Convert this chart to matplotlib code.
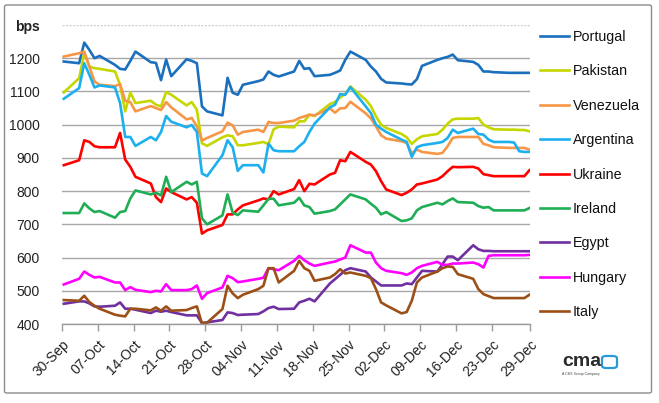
import matplotlib
matplotlib.use("Agg")
import matplotlib.pyplot as plt
from matplotlib.patches import FancyBboxPatch
import pandas as pd
import numpy as np

plt.rcParams['font.family'] = ['Liberation Sans', 'DejaVu Sans']

dates = pd.bdate_range('2011-09-30', '2011-12-30')

portugal = [1190,
            1185, 1247, 1225, 1200, 1207,
            1180, 1168, 1166, 1192, 1220,
            1188, 1186, 1134, 1196, 1146,
            1197, 1192, 1185, 1055, 1040,
            1028, 1141, 1096, 1090, 1120,
            1131, 1136, 1160, 1150, 1145,
            1160, 1192, 1168, 1170, 1146,
            1150, 1156, 1163, 1195, 1220,
            1195, 1175, 1160, 1138, 1127,
            1124, 1122, 1121, 1137, 1177,
            1195, 1200, 1204, 1211, 1194,
            1189, 1180, 1160, 1160, 1158,
            1156, 1156, 1156, 1156, 1156]
pakistan = [1097,
            1140, 1215, 1175, 1170, 1168,
            1160, 1120, 1040, 1097, 1065,
            1072, 1060, 1055, 1098, 1090,
            1058, 1068, 1045, 944, 936,
            962, 968, 965, 938, 938,
            945, 948, 941, 986, 994,
            992, 1010, 1010, 1030, 1026,
            1062, 1068, 1082, 1092, 1115,
            1075, 1056, 1025, 1000, 990,
            972, 962, 942, 956, 965,
            972, 985, 1003, 1016, 1018,
            1018, 1020, 1000, 992, 986,
            985, 985, 984, 984, 980]
venezuela = [1205,
             1215, 1220, 1175, 1130, 1120,
             1116, 1122, 1072, 1068, 1040,
             1056, 1050, 1044, 1068, 1052,
             1016, 1020, 995, 952, 960,
             980, 1006, 998, 970, 978,
             985, 978, 1008, 1005, 1005,
             1012, 1020, 1025, 1030, 1028,
             1049, 1036, 1049, 1050, 1069,
             1034, 1019, 995, 968, 958,
             950, 945, 914, 925, 918,
             912, 915, 935, 960, 963,
             963, 963, 942, 938, 932,
             930, 930, 930, 930, 925]
argentina = [1078,
             1110, 1185, 1150, 1112, 1118,
             1112, 1065, 963, 963, 936,
             963, 953, 978, 1026, 1009,
             992, 999, 978, 853, 845,
             908, 953, 932, 861, 878,
             878, 856, 943, 923, 920,
             920, 935, 948, 978, 1003,
             1052, 1060, 1092, 1090, 1113,
             1055, 1035, 1000, 988, 978,
             955, 948, 903, 932, 938,
             945, 948, 960, 985, 975,
             988, 972, 970, 955, 948,
             948, 946, 920, 918, 918]
ukraine = [878,
           893, 953, 948, 935, 932,
           932, 975, 895, 873, 843,
           823, 782, 767, 808, 797,
           775, 782, 765, 672, 682,
           698, 730, 730, 745, 757,
           772, 778, 775, 800, 790,
           806, 833, 800, 822, 820,
           850, 855, 893, 890, 918,
           888, 880, 860, 830, 805,
           788, 795, 805, 820, 823,
           835, 845, 860, 873, 872,
           873, 868, 851, 848, 845,
           845, 845, 845, 845, 863]
ireland = [734,
           734, 763, 748, 737, 740,
           720, 737, 740, 778, 802,
           790, 795, 787, 843, 797,
           828, 820, 828, 718, 700,
           727, 790, 735, 728, 742,
           738, 757, 777, 777, 757,
           765, 780, 757, 752, 732,
           740, 745, 760, 775, 790,
           775, 762, 750, 730, 737,
           710, 712, 718, 742, 752,
           765, 760, 770, 778, 767,
           765, 755, 750, 752, 742,
           742, 742, 742, 742, 749]
egypt = [461,
         468, 468, 462, 453, 452,
         455, 465, 446, 446, 443,
         433, 440, 437, 440, 436,
         426, 426, 426, 403, 405,
         412, 435, 433, 427, 428,
         430, 438, 448, 452, 445,
         446, 465, 470, 476, 468,
         522, 535, 548, 562, 568,
         558, 540, 528, 516, 516,
         516, 522, 520, 540, 560,
         558, 580, 603, 603, 592,
         637, 625, 620, 620, 619,
         619, 619, 619, 619, 619]
hungary = [519,
           536, 558, 548, 540, 542,
           525, 525, 502, 511, 503,
           496, 500, 498, 520, 502,
           502, 505, 516, 476, 493,
           510, 545, 538, 526, 528,
           536, 539, 568, 565, 562,
           590, 605, 592, 582, 575,
           585, 588, 594, 600, 637,
           615, 615, 585, 568, 560,
           553, 548, 555, 568, 575,
           587, 578, 578, 582, 582,
           585, 580, 570, 605, 607,
           607, 607, 607, 607, 608]
italy = [472,
         470, 485, 466, 455, 446,
         428, 425, 423, 446, 446,
         441, 450, 440, 453, 440,
         442, 448, 453, 402, 404,
         445, 515, 492, 478, 488,
         505, 515, 568, 568, 525,
         560, 590, 568, 560, 530,
         540, 550, 565, 552, 555,
         545, 538, 505, 465, 456,
         432, 436, 470, 525, 540,
         558, 568, 573, 572, 550,
         536, 505, 490, 484, 478,
         478, 478, 478, 478, 488]

series_names = ['Portugal', 'Pakistan', 'Venezuela', 'Argentina', 'Ukraine',
                'Ireland', 'Egypt', 'Hungary', 'Italy']
series_values = [portugal, pakistan, venezuela, argentina, ukraine,
                 ireland, egypt, hungary, italy]
colors = ['#1b70be', '#c5d600', '#f79646', '#1cb0ee', '#ff0000',
          '#1fae55', '#7030a0', '#ff00ff', '#9c4f17']

tick_labels = ['30-Sep', '07-Oct', '14-Oct', '21-Oct', '28-Oct', '04-Nov',
               '11-Nov', '18-Nov', '25-Nov', '02-Dec', '09-Dec', '16-Dec',
               '23-Dec', '29-Dec']
y_ticks = [400, 500, 600, 700, 800, 900, 1000, 1100, 1200, 1300]

W, H = 659, 403
fig = plt.figure(figsize=(W / 100, H / 100), dpi=100)
fig.patch.set_facecolor('white')

# chart area border
border = FancyBboxPatch((4.5 / W, 10 / H), 647 / W, 388 / H,
                        boxstyle='round,pad=0,rounding_size=0.004',
                        transform=fig.transFigure, fill=False,
                        edgecolor='#8c8c8c', linewidth=1.0)
fig.patches.append(border)

ax = fig.add_axes([62 / W, (H - 324) / H, (530 - 62) / W, (324 - 25) / H])
ax.set_facecolor('white')

xday = np.array([(d - dates[0]).days for d in dates], dtype=float)

for name, vals, c in zip(series_names, series_values, colors):
    ax.plot(xday, vals, color=c, lw=1.9, label=name, solid_joinstyle='round')

ax.set_ylim(400, 1300)
ax.set_xlim(-0.35, 91.1)
ax.set_yticks(y_ticks)
ax.set_yticklabels([str(v) for v in y_ticks[:-1]] + ['bps'])
for lab in ax.get_yticklabels():
    if lab.get_text() == 'bps':
        lab.set_fontweight('bold')
ax.tick_params(axis='y', length=0, pad=16, labelsize=10, colors='#222222')
ax.grid(axis='y', color='#a8a8a8', lw=1.0)
ax.set_axisbelow(True)
for gl, v in zip(ax.get_ygridlines(), y_ticks):
    if v == 1300:
        gl.set_color('#cfcfcf')
        gl.set_linestyle((0, (1.5, 1)))

xt = [-0.35 + 7 * k for k in range(13)] + [91.1]
ax.set_xticks(xt)
ax.set_xticklabels(tick_labels, rotation=45, ha='right', va='top',
                   rotation_mode='anchor', fontsize=10, color='#222222')
ax.tick_params(axis='x', length=5, width=1, color='#9a9a9a', pad=5)

for s in ['top', 'right', 'left']:
    ax.spines[s].set_visible(False)
ax.spines['bottom'].set_color('#9a9a9a')
ax.spines['bottom'].set_linewidth(1.0)

leg = fig.legend(loc='upper left', bbox_to_anchor=(534 / W, 1 - 24 / H),
                 frameon=False, fontsize=10.3, handlelength=2.05,
                 handletextpad=0.25, labelspacing=1.43, borderaxespad=0)
for t in leg.get_texts():
    t.set_color('#111111')

# logo
fig.text(562 / W, 1 - 362 / H, 'cma', fontsize=14, fontweight='bold',
         color='#2b2b2b', va='center', ha='left')
logo_box = FancyBboxPatch((602 / W, 1 - 368 / H), 15 / W, 12 / H,
                          boxstyle='round,pad=0,rounding_size=0.006',
                          transform=fig.transFigure, fill=False,
                          edgecolor='#2a9ad6', linewidth=1.6)
fig.patches.append(logo_box)
fig.text(562 / W, 1 - 374 / H, 'A CME Group Company', fontsize=2.5,
         color='#444444', va='center', ha='left')

fig.savefig('out.png', dpi=100, facecolor='white')
